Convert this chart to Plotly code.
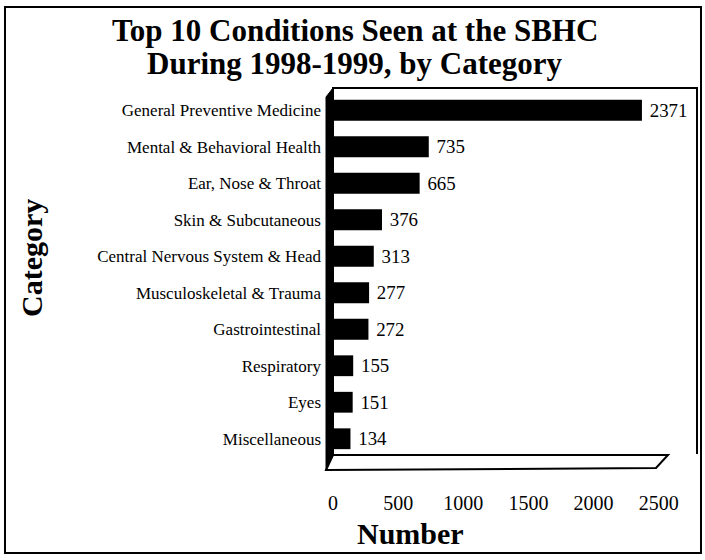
import plotly.graph_objects as go

# Top 10 condition categories and visit counts
categories = [
    "General Preventive Medicine",
    "Mental & Behavioral Health",
    "Ear, Nose & Throat",
    "Skin & Subcutaneous",
    "Central Nervous System & Head",
    "Musculoskeletal & Trauma",
    "Gastrointestinal",
    "Respiratory",
    "Eyes",
    "Miscellaneous",
]
counts = [2371, 735, 665, 376, 313, 277, 272, 155, 151, 134]
x_ticks = [0, 500, 1000, 1500, 2000, 2500]

W, H = 705, 560
L, R, T, B = 333, 8, 92, 103
PW, PH = W - L - R, H - T - B
SERIF = "Liberation Serif, Times New Roman, serif"


def px(x):
    return (x - L) / PW


def py(y):
    return (H - B - y) / PH


fig = go.Figure(
    go.Bar(
        x=counts,
        y=categories,
        orientation="h",
        marker=dict(color="#000000", line=dict(width=0)),
        width=0.57,
        text=[f" {c}" for c in counts],
        texttemplate="%{text}",
        textposition="outside",
        textfont=dict(family=SERIF, size=20, color="#000"),
        cliponaxis=False,
    )
)

shapes = [
    # outer frame
    dict(type="rect", xref="paper", yref="paper",
         x0=px(5), x1=px(701), y0=py(553), y1=py(7),
         line=dict(color="#000", width=2), layer="below"),
    # back wall of the box
    dict(type="path", xref="paper", yref="paper",
         path=f"M {px(333)},{py(455)} L {px(333)},{py(88)} L {px(697)},{py(88)} L {px(697)},{py(454)}",
         line=dict(color="#000", width=2), layer="below"),
    # floor
    dict(type="path", xref="paper", yref="paper",
         path=f"M {px(333)},{py(455)} L {px(668)},{py(455)} L {px(656)},{py(468)} L {px(326)},{py(470)} Z",
         line=dict(color="#000", width=2), fillcolor="#fff", layer="below"),
    # left wall
    dict(type="path", xref="paper", yref="paper",
         path=f"M {px(326)},{py(97)} L {px(333)},{py(88)} L {px(333)},{py(455)} L {px(326)},{py(470)} Z",
         line=dict(color="#000", width=1), fillcolor="#000", layer="above"),
]

annotations = [
    dict(text="<b>Top 10 Conditions Seen at the SBHC</b>", x=px(355), y=py(31),
         xref="paper", yref="paper", showarrow=False, xanchor="center", yanchor="middle",
         font=dict(family=SERIF, size=31, color="#000")),
    dict(text="<b>During 1998-1999, by Category</b>", x=px(355), y=py(63),
         xref="paper", yref="paper", showarrow=False, xanchor="center", yanchor="middle",
         font=dict(family=SERIF, size=31, color="#000")),
    dict(text="<b>Number</b>", x=px(410), y=py(533),
         xref="paper", yref="paper", showarrow=False, xanchor="center", yanchor="middle",
         font=dict(family=SERIF, size=30, color="#000")),
    dict(text="<b>Category</b>", x=px(31), y=py(258), textangle=-90,
         xref="paper", yref="paper", showarrow=False, xanchor="center", yanchor="middle",
         font=dict(family=SERIF, size=30, color="#000")),
]

fig.update_layout(
    width=W, height=H,
    margin=dict(l=L, r=R, t=T, b=B, pad=0),
    paper_bgcolor="#fff", plot_bgcolor="rgba(0,0,0,0)",
    showlegend=False,
    bargap=0.43,
    shapes=shapes,
    annotations=annotations,
    xaxis=dict(
        range=[0, PW / 0.1303], tickvals=x_ticks, ticktext=[str(v) for v in x_ticks],
        showgrid=False, zeroline=False, showline=False, ticks="",
        tickfont=dict(family=SERIF, size=20, color="#000"),
        ticklabelstandoff=32,
    ),
    yaxis=dict(
        autorange="reversed", showgrid=False, zeroline=False, showline=False, ticks="",
        tickfont=dict(family=SERIF, size=17, color="#000"),
        ticklabelstandoff=11,
    ),
)

fig.write_html("out.html")
